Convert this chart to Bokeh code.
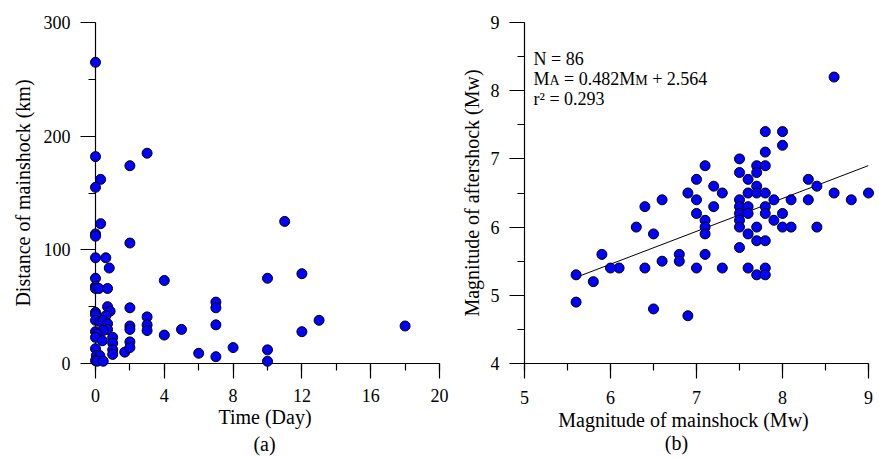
from bokeh.plotting import figure
from bokeh.layouts import row
from bokeh.models import SingleIntervalTicker
from bokeh.core.properties import value
from bokeh.embed import file_html
from bokeh.resources import INLINE

FONT = "Liberation Serif"

# ---- Panel (a): time after mainshock vs distance ----
time_day = [0, 0, 0.3, 0, 0.3, 0, 0, 0, 0.6, 0.8, 0, 0, 0, 0.2, 0.7, 0.7, 0.85,
            0, 0, 0.6, 0, 0.25, 0.45, 0.7, 0.7, 0.45, 0, 0.1, 0, 0.4, 0, 0.05,
            0.25, 0, 0.1, 0.45, 1, 1, 1, 1, 1.7, 2, 2, 2, 2, 2, 2, 2, 3, 3, 3,
            3, 4, 4, 5, 6, 7, 7, 7, 7, 8, 10, 10, 10, 11, 12, 12, 13, 18]
distance_km = [265, 182, 162, 155, 123, 114, 112, 93, 93, 84, 75, 68, 66, 66, 66,
               50, 46, 45, 43, 42, 38, 37, 38, 35, 30, 29, 28, 26, 23, 20, 13, 7,
               7, 2.5, 2, 2, 23, 18, 12, 8, 10, 174, 106, 49, 33, 30, 19, 14, 185,
               41, 34, 29, 73, 25, 30, 9, 54, 49, 34, 6, 14, 75, 12, 2, 125, 79,
               28, 38, 33]

# ---- Panel (b): mainshock vs aftershock magnitude ----
mag_main = [8.6, 7.8, 8.0, 8.0, 7.8, 7.5, 7.1, 7.7, 7.8, 7.5, 7.7, 7.0, 7.6, 8.3,
            7.2, 7.7, 8.4, 6.9, 7.3, 7.6, 7.7, 7.8, 8.6, 9.0, 6.6, 7.0, 7.5, 7.9,
            8.1, 8.3, 8.8, 6.4, 7.2, 7.5, 7.6, 7.8, 7.0, 7.5, 7.6, 7.8, 8.0, 7.1,
            7.5, 7.9, 6.3, 7.1, 7.5, 7.7, 8.0, 8.1, 8.4, 6.5, 7.1, 7.6, 7.7, 7.8,
            7.5, 5.9, 6.8, 7.1, 6.6, 6.8, 6.0, 6.1, 6.4, 7.0, 7.3, 7.6, 7.8, 5.6,
            7.7, 7.8, 5.8, 5.6, 6.5, 6.9]
mag_after = [8.2, 7.4, 7.4, 7.2, 7.1, 7.0, 6.9, 6.9, 6.9, 6.8, 6.8, 6.7, 6.7, 6.7,
             6.6, 6.6, 6.6, 6.5, 6.5, 6.5, 6.5, 6.5, 6.5, 6.5, 6.4, 6.4, 6.4, 6.4,
             6.4, 6.4, 6.4, 6.3, 6.3, 6.3, 6.3, 6.3, 6.2, 6.2, 6.2, 6.2, 6.2, 6.1,
             6.1, 6.1, 6.0, 6.0, 6.0, 6.0, 6.0, 6.0, 6.0, 5.9, 5.9, 5.9, 5.8, 5.8,
             5.7, 5.6, 5.6, 5.6, 5.5, 5.5, 5.4, 5.4, 5.4, 5.4, 5.4, 5.4, 5.4, 5.3,
             5.3, 5.3, 5.2, 4.9, 4.8, 4.7]
fit_slope = 0.482
fit_intercept = 2.564
n_events = 86
r_squared = 0.293

PT = dict(size=10, fill_color="#0000FF", line_color="black", line_width=1)


def style(p, xint, yint):
    p.xaxis.ticker = SingleIntervalTicker(interval=xint, num_minor_ticks=2)
    p.yaxis.ticker = SingleIntervalTicker(interval=yint, num_minor_ticks=2)
    for ax in (p.xaxis[0], p.yaxis[0]):
        ax.axis_line_color = "black"
        ax.axis_line_width = 1.2
        ax.major_tick_line_color = "black"
        ax.major_tick_line_width = 1.2
        ax.minor_tick_line_color = "black"
        ax.minor_tick_line_width = 1.2
        ax.major_tick_in = 0
        ax.major_tick_out = 15
        ax.minor_tick_in = 0
        ax.minor_tick_out = 7
        ax.major_label_text_font = FONT
        ax.major_label_text_font_size = "18px"
        ax.major_label_text_color = "black"
        ax.axis_label_text_font = FONT
        ax.axis_label_text_font_size = "20px"
        ax.axis_label_text_font_style = "normal"
        ax.axis_label_text_color = "black"
    p.xaxis.major_label_standoff = 10
    p.yaxis.major_label_standoff = 10
    p.yaxis.axis_label_standoff = 5
    p.grid.visible = False
    p.outline_line_color = None
    p.background_fill_color = "white"
    p.border_fill_color = "white"


def txt(p, x, y, text, xo, yo, size="20px", align="center"):
    p.text(x=[x], y=[y], text=[text], x_offset=xo, y_offset=yo,
           text_font=value(FONT), text_font_size=size, text_color="black",
           text_align=align, text_baseline="alphabetic", level="overlay")


# Panel (a)
p1 = figure(width=454, height=458, title=None,
            x_range=(0, 20), y_range=(0, 300), output_backend="svg",
            toolbar_location=None, min_border_left=95, min_border_right=15,
            min_border_top=22, min_border_bottom=95)
style(p1, 4, 100)
p1.yaxis.axis_label = "Distance of mainshock (km)"
p1.yaxis.axis_label_standoff = 7
p1.scatter(time_day, distance_km, level="overlay", **PT)
txt(p1, 10, 0, "Time (Day)", -2.5, 53)
txt(p1, 10, 0, "(a)", -3, 80)

# Panel (b)
p2 = figure(width=423, height=458, title=None,
            x_range=(5, 9), y_range=(4, 9), output_backend="svg",
            toolbar_location=None, min_border_left=70, min_border_right=9,
            min_border_top=22, min_border_bottom=90)
style(p2, 1, 1)
p2.xaxis.major_label_standoff = 12
p2.yaxis.axis_label = "Magnitude of aftershock (Mw)"
fx = [min(mag_main), max(mag_main)]
fy = [fit_slope * v + fit_intercept for v in fx]
p2.line(fx, fy, line_color="black", line_width=1)
p2.scatter(mag_main, mag_after, level="overlay", **PT)
txt(p2, 7, 4, "Magnitude of mainshock (Mw)", -13, 56)
txt(p2, 7, 4, "(b)", -20, 79)

# annotation block (anchored at the top-left corner of the frame)
txt(p2, 5, 9, "N = %d" % n_events, 9, 36, size="18px", align="left")
txt(p2, 5, 9, "M", 9, 56, size="18px", align="left")
txt(p2, 5, 9, "A", 25, 58, size="14px", align="left")
txt(p2, 5, 9, "= %.3fM" % fit_slope, 39.6, 56, size="18px", align="left")
txt(p2, 5, 9, "M", 110.8, 58, size="14px", align="left")
txt(p2, 5, 9, "+ %.3f" % fit_intercept, 127.7, 56, size="18px", align="left")
txt(p2, 5, 9, "r\u00b2 = %.3f" % r_squared, 9, 76, size="18px", align="left")

layout = row(p1, p2)
open("out.html", "w").write(file_html(layout, INLINE))
